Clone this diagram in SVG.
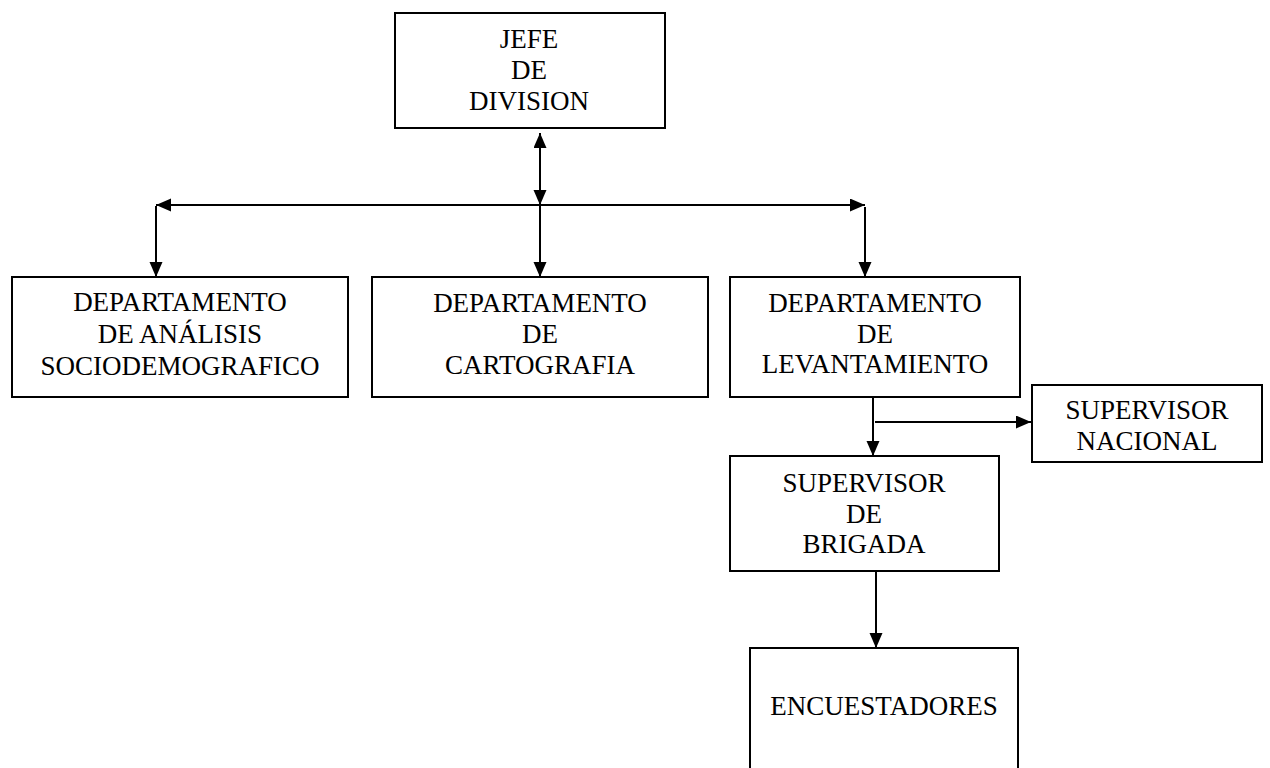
<svg xmlns="http://www.w3.org/2000/svg" width="1270" height="768" viewBox="0 0 1270 768">
<defs>
<marker id="ah" markerUnits="userSpaceOnUse" markerWidth="16" markerHeight="14" refX="15" refY="6.5" orient="auto-start-reverse">
<path d="M0,0 L15,6.5 L0,13 z" fill="#000"/>
</marker>
<style>
.box{fill:#fff;stroke:#000;stroke-width:2}
.t{font-family:"Liberation Serif","Times New Roman",serif;font-size:27px;fill:#000;text-anchor:middle}
.c{stroke:#000;stroke-width:2;fill:none}
</style>
</defs>
<rect width="1270" height="768" fill="#fff"/>
<g id="jefe">
<rect class="box" x="395" y="13" width="270" height="115"/>
<text class="t" x="529" y="48">JEFE</text>
<text class="t" x="529" y="79">DE</text>
<text class="t" x="529" y="110">DIVISION</text>
</g>
<g id="dep-analisis">
<rect class="box" x="12" y="277" width="336" height="120"/>
<text class="t" x="180" y="311">DEPARTAMENTO</text>
<text class="t" x="180" y="343">DE ANÁLISIS</text>
<text class="t" x="180" y="375">SOCIODEMOGRAFICO</text>
</g>
<g id="dep-cartografia">
<rect class="box" x="372" y="277" width="336" height="120"/>
<text class="t" x="540" y="312">DEPARTAMENTO</text>
<text class="t" x="540" y="343">DE</text>
<text class="t" x="540" y="374">CARTOGRAFIA</text>
</g>
<g id="dep-levantamiento">
<rect class="box" x="730" y="277" width="290" height="120"/>
<text class="t" x="875" y="312">DEPARTAMENTO</text>
<text class="t" x="875" y="343">DE</text>
<text class="t" x="875" y="373">LEVANTAMIENTO</text>
</g>
<g id="sup-nacional">
<rect class="box" x="1032" y="385" width="230" height="77"/>
<text class="t" x="1147" y="419">SUPERVISOR</text>
<text class="t" x="1147" y="450">NACIONAL</text>
</g>
<g id="sup-brigada">
<rect class="box" x="730" y="456" width="269" height="115"/>
<text class="t" x="864" y="492">SUPERVISOR</text>
<text class="t" x="864" y="523">DE</text>
<text class="t" x="864" y="553">BRIGADA</text>
</g>
<g id="encuestadores">
<rect class="box" x="750" y="648" width="268" height="140"/>
<text class="t" x="884" y="715">ENCUESTADORES</text>
</g>
<g id="connectors">
<line class="c" x1="540" y1="133" x2="540" y2="205" marker-start="url(#ah)" marker-end="url(#ah)"/>
<line class="c" x1="540" y1="205" x2="540" y2="277" marker-end="url(#ah)"/>
<line class="c" x1="540" y1="205" x2="156" y2="205" marker-end="url(#ah)"/>
<line class="c" x1="540" y1="205" x2="865" y2="205" marker-end="url(#ah)"/>
<line class="c" x1="156" y1="206" x2="156" y2="277" marker-end="url(#ah)"/>
<line class="c" x1="865" y1="207" x2="865" y2="277" marker-end="url(#ah)"/>
<line class="c" x1="873" y1="397" x2="873" y2="456" marker-end="url(#ah)"/>
<line class="c" x1="875" y1="422" x2="1031" y2="422" marker-end="url(#ah)"/>
<line class="c" x1="876" y1="571" x2="876" y2="648" marker-end="url(#ah)"/>
</g>
</svg>
